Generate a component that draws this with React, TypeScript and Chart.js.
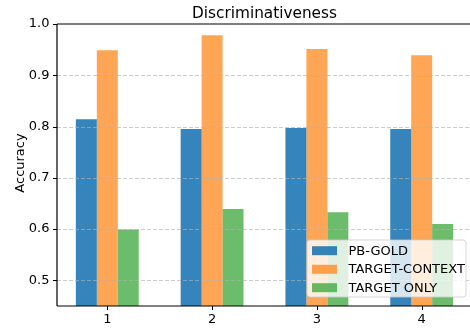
import React, { useEffect, useRef } from "react";
import { Chart, registerables } from "chart.js";

Chart.register(...registerables);

const categories = [1, 2, 3, 4];
const pbGold = [0.814, 0.795, 0.797, 0.795];
const targetContext = [0.949, 0.978, 0.951, 0.939];
const targetOnly = [0.599, 0.639, 0.633, 0.61];
const yTicks = [0.5, 0.6, 0.7, 0.8, 0.9, 1.0];
const seriesNames = ["PB-GOLD", "TARGET-CONTEXT", "TARGET ONLY"];
const titleText = "Discriminativeness";
const yLabel = "Accuracy";

const COLORS = ["rgba(31,119,180,0.9)", "rgba(255,127,14,0.7)", "rgba(44,160,44,0.7)"];
const FONT = "'DejaVu Sans', sans-serif";

const overlay = {
  id: "overlay",
  afterDatasetsDraw(chart: any) {
    const { ctx, chartArea } = chart;
    const { left, right, top, bottom } = chartArea;
    const ys = chart.scales.y;
    const xs = chart.scales.x;
    ctx.save();
    // grid lines
    ctx.strokeStyle = "rgba(176,176,176,0.65)";
    ctx.lineWidth = 1;
    ctx.setLineDash([4, 2]);
    yTicks.forEach((v) => {
      if (v >= 1.0) return;
      const y = Math.round(ys.getPixelForValue(v)) + 0.5;
      ctx.beginPath();
      ctx.moveTo(left, y);
      ctx.lineTo(right, y);
      ctx.stroke();
    });
    ctx.setLineDash([]);
    // spines (left, top, bottom)
    ctx.strokeStyle = "#000";
    ctx.lineWidth = 1.2;
    ctx.beginPath();
    ctx.moveTo(left, top);
    ctx.lineTo(right + 10, top);
    ctx.moveTo(left, top);
    ctx.lineTo(left, bottom);
    ctx.moveTo(left, bottom);
    ctx.lineTo(right + 10, bottom);
    ctx.stroke();
    // tick marks
    ctx.lineWidth = 1;
    ctx.beginPath();
    yTicks.forEach((v) => {
      const y = Math.round(ys.getPixelForValue(v)) + 0.5;
      ctx.moveTo(left - 4, y);
      ctx.lineTo(left, y);
    });
    categories.forEach((c) => {
      const x = Math.round(xs.getPixelForValue(c)) + 0.5;
      ctx.moveTo(x, bottom);
      ctx.lineTo(x, bottom + 4);
    });
    ctx.stroke();

    // legend
    const lx = 307, ly = 240, lw = 159, lh = 57, r = 3;
    ctx.beginPath();
    ctx.moveTo(lx + r, ly);
    ctx.lineTo(lx + lw - r, ly);
    ctx.quadraticCurveTo(lx + lw, ly, lx + lw, ly + r);
    ctx.lineTo(lx + lw, ly + lh - r);
    ctx.quadraticCurveTo(lx + lw, ly + lh, lx + lw - r, ly + lh);
    ctx.lineTo(lx + r, ly + lh);
    ctx.quadraticCurveTo(lx, ly + lh, lx, ly + lh - r);
    ctx.lineTo(lx, ly + r);
    ctx.quadraticCurveTo(lx, ly, lx + r, ly);
    ctx.closePath();
    ctx.fillStyle = "rgba(255,255,255,0.8)";
    ctx.fill();
    ctx.strokeStyle = "rgba(204,204,204,0.8)";
    ctx.lineWidth = 1;
    ctx.stroke();
    const rows = [250.7, 269.3, 287.7];
    ctx.font = `13px ${FONT}`;
    ctx.textBaseline = "middle";
    ctx.textAlign = "left";
    seriesNames.forEach((name, i) => {
      ctx.fillStyle = COLORS[i];
      ctx.fillRect(312, rows[i] - 4.5, 25, 9);
      ctx.fillStyle = "#000";
      ctx.fillText(name, 348.5, rows[i] + 0.5);
    });

    // title
    ctx.font = `15.3px ${FONT}`;
    ctx.textAlign = "center";
    ctx.textBaseline = "alphabetic";
    ctx.fillText(titleText, (left + right) / 2, 17.5);
    // y label
    ctx.font = `13px ${FONT}`;
    ctx.translate(24, (top + bottom) / 2 - 2);
    ctx.rotate(-Math.PI / 2);
    ctx.fillText(yLabel, 0, 0);
    ctx.restore();
  },
};

export default function App() {
  const ref = useRef<HTMLCanvasElement>(null);
  useEffect(() => {
    if (!ref.current) return;
    const mk = (vals: number[]) => categories.map((c, i) => ({ x: c, y: vals[i] }));
    const chart = new Chart(ref.current, {
      type: "bar",
      data: {
        datasets: [
          { label: seriesNames[0], data: mk(pbGold), backgroundColor: COLORS[0] },
          { label: seriesNames[1], data: mk(targetContext), backgroundColor: COLORS[1] },
          { label: seriesNames[2], data: mk(targetOnly), backgroundColor: COLORS[2] },
        ] as any,
      },
      options: {
        responsive: false,
        animation: false,
        devicePixelRatio: 1,
        layout: { padding: { left: 0, right: 2, top: 24, bottom: 0 } },
        datasets: { bar: { categoryPercentage: 0.6, barPercentage: 1.0 } } as any,
        plugins: { legend: { display: false }, title: { display: false }, tooltip: { enabled: false } },
        scales: {
          x: {
            type: "linear",
            min: 0.52,
            max: 4.48,
            offset: false,
            grid: { display: false, drawTicks: true, tickLength: 4 },
            border: { display: false },
            ticks: { color: "#000", font: { family: FONT, size: 13 }, padding: 2, maxRotation: 0, callback: (v: any) => String(v) },
            afterBuildTicks: (s: any) => {
              s.ticks = categories.map((c) => ({ value: c }));
            },
            afterFit: (s: any) => {
              s.height = 23;
            },
          },
          y: {
            type: "linear",
            min: 0.45,
            max: 1.0,
            grid: { display: false, drawTicks: true, tickLength: 4 },
            border: { display: false },
            ticks: { color: "#000", font: { family: FONT, size: 13 }, padding: 3.5, callback: (v: any) => Number(v).toFixed(1) },
            afterBuildTicks: (s: any) => {
              s.ticks = yTicks.map((v) => ({ value: v }));
            },
            afterFit: (s: any) => {
              s.width = 57;
            },
          },
        },
      },
      plugins: [overlay],
    });
    return () => chart.destroy();
  }, []);
  return (
    <div style={{ position: "fixed", left: 0, top: 0, width: 470, height: 329, overflow: "hidden", background: "#fff" }}>
      <canvas ref={ref} width={474} height={329} style={{ display: "block", width: 474, height: 329 }} />
    </div>
  );
}
